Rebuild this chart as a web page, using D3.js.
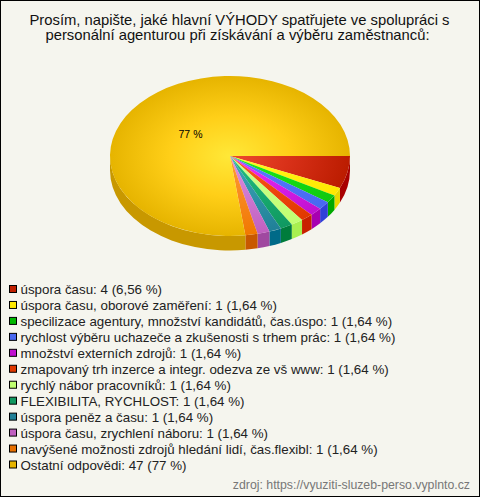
<!DOCTYPE html>
<html><head><meta charset="utf-8">
<script src="https://cdn.jsdelivr.net/npm/d3@7"></script>
<style>html,body{margin:0;padding:0;background:#f5f5ee}svg{display:block}text{font-family:"Liberation Sans",Arial,sans-serif}</style>
</head><body><script>
const titleLines=["Prosím, napište, jaké hlavní VÝHODY spatřujete ve spolupráci s","personální agenturou při získávání a výběru zaměstnanců:"];
const categories=["úspora času","úspora času, oborové zaměření","specilizace agentury, množství kandidátů, čas.úspo","rychlost výběru uchazeče a zkušenosti s trhem prác","množství externích zdrojů","zmapovaný trh inzerce a integr. odezva ze vš www","rychlý nábor pracovníků","FLEXIBILITA, RYCHLOST","úspora peněz a času","úspora času, zrychlení náboru","navýšené možnosti zdrojů hledání lidí, čas.flexibl","Ostatní odpovědi"];
const values=[4,1,1,1,1,1,1,1,1,1,1,47];
const percents=["6,56","1,64","1,64","1,64","1,64","1,64","1,64","1,64","1,64","1,64","1,64","77"];
const innerColors=["#ee4a2e","#ffff20","#20f020","#5a80ff","#ee30ff","#ff5a20","#d0ff90","#20c080","#40a8b8","#e090e0","#ffa030","#ffe838"];
const midColors=["#d83018","#fff010","#14dc14","#5074f8","#d820e8","#f04810","#c8ff80","#18ac70","#3094a8","#d078d0","#f88820","#ffcf18"];
const outerColors=["#bb1c00","#ffe800","#10c810","#4868f0","#c010d0","#e03800","#c0ff70","#109860","#208098","#c060c0","#f07800","#e6b400"];
const sideColors=["#a80000","#e8d800","#00a800","#3040d8","#a800b0","#c82000","#a8f050","#007c3c","#006a88","#a048a0","#c85800","#c89800"];
const legendColors=["#c02000","#ffe800","#00b800","#4868f0","#c010d0","#e03800","#c0ff70","#109860","#208098","#c060c0","#e87000","#e6b400"];
const footerText="zdroj: https://vyuziti-sluzeb-perso.vyplnto.cz";

const W=480,H=497,cx=230,cy=156,rx=120,ry=80,depth=14.5;
const svg=d3.select("body").append("svg").attr("width",W).attr("height",H);
svg.append("rect").attr("x",.5).attr("y",.5).attr("width",W-1).attr("height",H-1).attr("fill","#f5f5ee").attr("stroke","#000");

svg.selectAll("text.title").data(titleLines).join("text").attr("class","title")
  .attr("x",(d,i)=>239.5-i*2).attr("y",(d,i)=>25+i*14.5).attr("text-anchor","middle").attr("font-size",14.8).attr("fill","#111").text(d=>d);

const pie=d3.pie().sort(null).startAngle(Math.PI/2).endAngle(Math.PI/2+2*Math.PI)(values);
const arc=d3.arc().innerRadius(0).outerRadius(1);
const defs=svg.append("defs");
pie.forEach((d,i)=>{
  const g=defs.append("radialGradient").attr("id","g"+i).attr("gradientUnits","userSpaceOnUse").attr("cx",0).attr("cy",0).attr("r",1);
  g.append("stop").attr("offset","0%").attr("stop-color",innerColors[i]);
  g.append("stop").attr("offset","50%").attr("stop-color",midColors[i]);
  g.append("stop").attr("offset","100%").attr("stop-color",outerColors[i]);
});
const px=a=>cx+rx*Math.sin(a), py=a=>cy-ry*Math.cos(a);
const wall=svg.append("g");
pie.forEach((d,i)=>{
  const a0=Math.max(d.startAngle,Math.PI/2), a1=Math.min(d.endAngle,3*Math.PI/2);
  if(a1<=a0) return;
  const p=`M${px(a0)},${py(a0)}A${rx},${ry} 0 0 1 ${px(a1)},${py(a1)}L${px(a1)},${py(a1)+depth}A${rx},${ry} 0 0 0 ${px(a0)},${py(a0)+depth}Z`;
  wall.append("path").attr("d",p).attr("fill",sideColors[i]);
});
const face=svg.append("g").attr("transform",`translate(${cx},${cy}) scale(${rx},${ry})`);
face.selectAll("path").data(pie).join("path").attr("d",arc).attr("fill",(d,i)=>`url(#g${i})`);
svg.append("text").attr("x",190.5).attr("y",138).attr("text-anchor","middle").attr("font-size",10.5).attr("fill","#000").text(percents[11]+" %");

const ly=d3.scalePoint().domain(d3.range(values.length)).range([294,469.5]);
const leg=svg.selectAll("g.l").data(values).join("g").attr("class","l").attr("transform",(d,i)=>`translate(0,${ly(i)})`);
leg.append("rect").attr("x",9.5).attr("y",-8.5).attr("width",7).attr("height",7).attr("fill",(d,i)=>legendColors[i]).attr("stroke","#000");
leg.append("text").attr("x",20.5).attr("y",0).attr("font-size",13.33).attr("fill","#222").text((d,i)=>`${categories[i]}: ${d} (${percents[i]} %)`);
svg.append("text").attr("x",470).attr("y",489).attr("text-anchor","end").attr("font-size",12.3).attr("fill","#777").text(footerText);
</script></body></html>
